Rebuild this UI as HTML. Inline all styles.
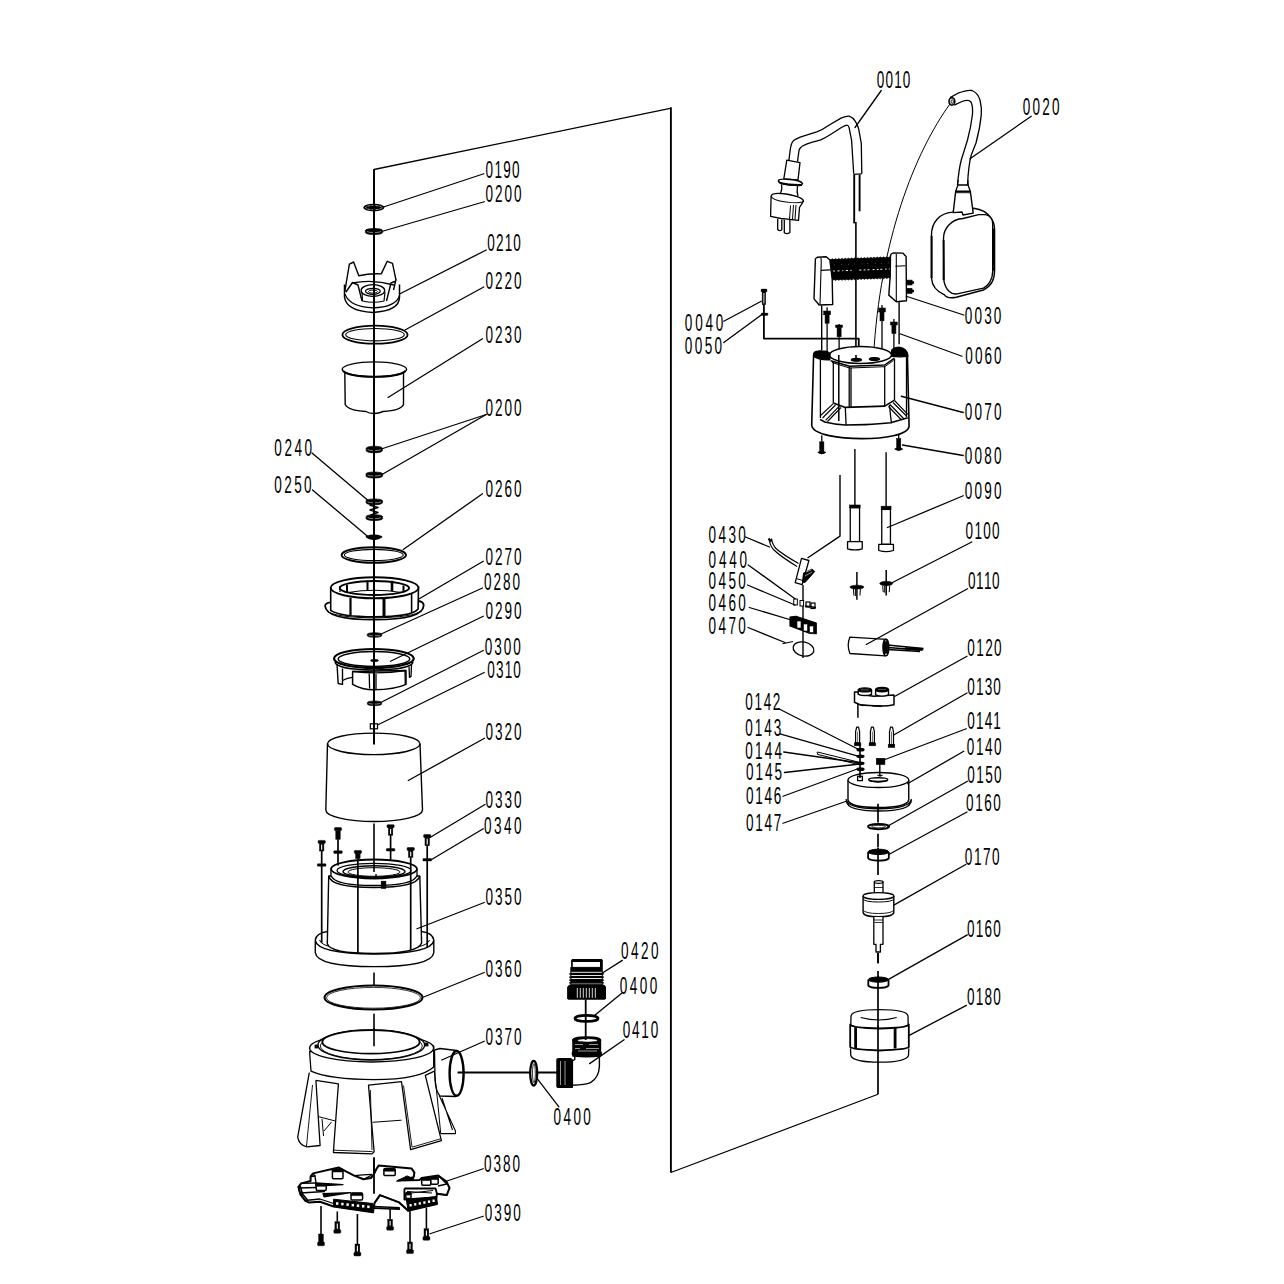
<!DOCTYPE html>
<html><head><meta charset="utf-8"><title>Pump exploded view</title>
<style>
html,body{margin:0;padding:0;background:#fff;}
svg{display:block;}
text{font-family:"Liberation Sans",sans-serif;font-size:23.2px;fill:#000;}
</style></head><body>
<svg width="1284" height="1284" viewBox="0 0 1284 1284">
<rect width="1284" height="1284" fill="#fff"/>

<path d="M374,169.5 L670.2,108.4" fill="none" stroke="#000" stroke-width="1.3" stroke-linejoin="round" />
<line x1="670.9" y1="107.2" x2="670.9" y2="1172.5" stroke="#000" stroke-width="1.9"/>
<path d="M670.9,1172.5 L878,1094.25" fill="none" stroke="#000" stroke-width="1.3" stroke-linejoin="round" />
<ellipse cx="373.8" cy="207.6" rx="10.6" ry="3.9" fill="#000"/>
<ellipse cx="373.8" cy="207.6" rx="8.2" ry="2.1" fill="none" stroke="#fff" stroke-width="0.6" stroke-dasharray="3 1"/>
<path d="M365.40,230.42 A8.6,1.92 0 0 1 382.60,230.42 L382.60,232.58 A8.6,1.92 0 0 1 365.40,232.58 Z" fill="#000" stroke="#000" stroke-width="0.7"/>
<path d="M366.95,231.55 A7.40,1.44 0 0 0 381.05,231.55" stroke="#fff" stroke-width="0.5" fill="none"/>
<path d="M344.5,284.5 L344.5,297 Q346,311 372.9,312.4 Q399.5,311 399.5,297 L399.5,284.5" fill="#fff" stroke="#000" stroke-width="1.5" stroke-linejoin="round" />
<path d="M345,294.3 Q350,307 372.9,307.8 Q396,307 399.5,295.7" fill="none" stroke="#000" stroke-width="1.2" stroke-linejoin="round" />
<path d="M344.8,292 L346.2,283 L349.4,264.1 L353.6,262 L358.8,275.7 Q370,273.2 381.3,273.9 L387.2,261.3 L392.5,263.4 L396,280.2" fill="none" stroke="#000" stroke-width="1.4" stroke-linejoin="round" />
<path d="M346,292 L352.5,282.5 L358,285 L362,301 M393.5,290 L396,279.7 M386.5,301 L391,283 L396,281" fill="none" stroke="#000" stroke-width="1.4" stroke-linejoin="round" />
<path d="M352,283 Q372.9,279 394,285" fill="none" stroke="#000" stroke-width="1.3" stroke-linejoin="round" />
<ellipse cx="372.9" cy="290.5" rx="11.8" ry="5.8" fill="none" stroke="#000" stroke-width="1.3" />
<ellipse cx="372.9" cy="291.3" rx="7.4" ry="3.0" fill="none" stroke="#000" stroke-width="1.2" />
<ellipse cx="372.9" cy="291.6" rx="4.5" ry="1.6" fill="none" stroke="#000" stroke-width="1.0" />
<path d="M362,292 L362.5,301 Q372.9,303.5 384,301 L385,292" fill="none" stroke="#000" stroke-width="1.2" stroke-linejoin="round" />
<ellipse cx="375" cy="334.7" rx="32.6" ry="9" fill="none" stroke="#000" stroke-width="1.8" />
<ellipse cx="375" cy="334.7" rx="29.3" ry="6.2" fill="none" stroke="#000" stroke-width="1.1" />
<path d="M344.8,372 L345.2,404.5 Q348,410.5 366,411.5 Q369,413.5 374,413.5 Q379,413.5 383,411.5 Q401,410.5 403.5,404.5 L403.5,372" fill="#fff" stroke="#000" stroke-width="1.4" stroke-linejoin="round" />
<ellipse cx="374.4" cy="369.3" rx="32.2" ry="7.4" fill="#fff" stroke="#000" stroke-width="1.4" />
<path d="M343,371 Q350,376.8 374.4,376.8 Q399,376.8 405.5,371" fill="none" stroke="#000" stroke-width="2.1" stroke-linejoin="round" />
<path d="M366.20,448.31 A8.1,2.11 0 0 1 382.40,448.31 L382.40,450.69 A8.1,2.11 0 0 1 366.20,450.69 Z" fill="#000" stroke="#000" stroke-width="0.7"/>
<path d="M367.66,449.56 A6.97,1.58 0 0 0 380.94,449.56" stroke="#fff" stroke-width="0.5" fill="none"/>
<path d="M366.00,473.92 A8.3,1.92 0 0 1 382.60,473.92 L382.60,476.08 A8.3,1.92 0 0 1 366.00,476.08 Z" fill="#000" stroke="#000" stroke-width="0.7"/>
<path d="M367.49,475.05 A7.14,1.44 0 0 0 381.11,475.05" stroke="#fff" stroke-width="0.5" fill="none"/>
<path d="M366.10,500.76 A8.2,1.86 0 0 1 382.50,500.76 L382.50,502.84 A8.2,1.86 0 0 1 366.10,502.84 Z" fill="#000" stroke="#000" stroke-width="0.7"/>
<path d="M367.58,501.85 A7.05,1.39 0 0 0 381.02,501.85" stroke="#fff" stroke-width="0.5" fill="none"/>
<path d="M369.5,505 L378,507.5 L370,510 L378,512.5 L370.5,515" fill="none" stroke="#000" stroke-width="1.4" stroke-linejoin="round" />
<path d="M366.10,516.56 A8.2,1.86 0 0 1 382.50,516.56 L382.50,518.64 A8.2,1.86 0 0 1 366.10,518.64 Z" fill="#000" stroke="#000" stroke-width="0.7"/>
<path d="M367.58,517.65 A7.05,1.39 0 0 0 381.02,517.65" stroke="#fff" stroke-width="0.5" fill="none"/>
<path d="M366.5,536.8 Q374,534 381.5,536.8 Q378,539.5 374,539 Q370,539.5 366.5,536.8 Z" fill="#000" stroke="#000" stroke-width="1.6" stroke-linejoin="round" />
<ellipse cx="373.8" cy="555" rx="32.2" ry="7.8" fill="none" stroke="#000" stroke-width="1.9" />
<ellipse cx="373.8" cy="555" rx="29.5" ry="5.6" fill="none" stroke="#000" stroke-width="1.1" />
<path d="M330.7,602.3 Q325.1,602.8 325.1,606 Q326,619.7 374.4,619.7 Q423,619.7 423.7,605.5 Q423.7,601.5 418.1,601 Z" fill="#fff" stroke="#000" stroke-width="1.8" stroke-linejoin="round" />
<path d="M327,611 Q335,617.5 374.4,617.8 Q414,617.5 422,610.5" fill="none" stroke="#000" stroke-width="1.0" stroke-linejoin="round" />
<path d="M330.7,588.4 L330.7,610.3 Q340,616.7 374.8,616.7 Q412,616.7 418.1,609 L418.5,586.7 Z" fill="#fff" stroke="#000" stroke-width="1.6" stroke-linejoin="round" />
<ellipse cx="374.6" cy="587.8" rx="43.9" ry="10.5" fill="#fff" stroke="#000" stroke-width="1.9" />
<ellipse cx="374.4" cy="588" rx="34.7" ry="6.9" fill="none" stroke="#000" stroke-width="2.0" />
<path d="M340.5,590 Q345,585.5 374,585 Q403,585.5 408.5,590" fill="none" stroke="#000" stroke-width="0" stroke-linejoin="round" />
<path d="M348.3,592.5 Q374,588 401.4,592.5" fill="none" stroke="#000" stroke-width="1.2" stroke-linejoin="round" />
<line x1="367.5" y1="580.5" x2="367.5" y2="590" stroke="#000" stroke-width="2.0"/>
<line x1="392" y1="580.8" x2="392" y2="591" stroke="#000" stroke-width="2.6"/>
<line x1="347" y1="585" x2="347" y2="593" stroke="#000" stroke-width="2.0"/>
<line x1="403.5" y1="585.5" x2="403.5" y2="591" stroke="#000" stroke-width="2.0"/>
<line x1="340" y1="586" x2="340" y2="592" stroke="#000" stroke-width="1.2"/>
<line x1="350.5" y1="597.8" x2="350.5" y2="615.5" stroke="#000" stroke-width="2.2"/>
<line x1="384" y1="599" x2="384" y2="616.5" stroke="#000" stroke-width="3.0"/>
<line x1="411.6" y1="594" x2="411.6" y2="612" stroke="#000" stroke-width="1.6"/>
<path d="M367.30,634.17 A7.2,1.47 0 0 1 381.70,634.17 L381.70,635.83 A7.2,1.47 0 0 1 367.30,635.83 Z" fill="#000" stroke="#000" stroke-width="0.7"/>
<path d="M368.60,635.04 A6.19,1.10 0 0 0 380.40,635.04" stroke="#fff" stroke-width="0.5" fill="none"/>
<path d="M352.6,671.5 L352.6,684.4 Q362,689.8 374,689.8 Q395,689.5 406,684.4 L406,670.5 Z" fill="#fff" stroke="#000" stroke-width="1.5" stroke-linejoin="round" />
<path d="M352.6,671.5 Q380,674.5 406,670.5" fill="none" stroke="#000" stroke-width="1.3" stroke-linejoin="round" />
<path d="M369.2,673.5 L369.6,688.5 M376,674 L376,689.8 M405,671 L405.3,684.5" fill="none" stroke="#000" stroke-width="1.3" stroke-linejoin="round" />
<path d="M337,664 L338.2,683.5 L342.5,684.4 L342.5,668.5" fill="#fff" stroke="#000" stroke-width="1.4" stroke-linejoin="round" />
<path d="M342.5,680.5 Q347,678 352.6,677.4" fill="none" stroke="#000" stroke-width="1.3" stroke-linejoin="round" />
<path d="M409,666.5 L409.5,677.4 L411,676.5 L411.5,665" fill="#fff" stroke="#000" stroke-width="1.3" stroke-linejoin="round" />
<path d="M335,662 Q336.5,669.5 374,670 Q411.5,669.5 413,662" fill="none" stroke="#000" stroke-width="1.5" stroke-linejoin="round" />
<ellipse cx="373.9" cy="658.5" rx="39.9" ry="9.5" fill="#fff" stroke="#000" stroke-width="2.2" />
<ellipse cx="374" cy="659" rx="35.8" ry="7.4" fill="none" stroke="#000" stroke-width="1.5" />
<ellipse cx="374.5" cy="660.5" rx="3.9" ry="1.0" fill="#000" stroke="#000" stroke-width="0.8" />
<path d="M367.40,702.47 A7.1,1.47 0 0 1 381.60,702.47 L381.60,704.13 A7.1,1.47 0 0 1 367.40,704.13 Z" fill="#000" stroke="#000" stroke-width="0.7"/>
<path d="M368.68,703.34 A6.11,1.10 0 0 0 380.32,703.34" stroke="#fff" stroke-width="0.5" fill="none"/>
<rect x="370.3" y="723.8" width="7.2" height="5" rx="0" fill="#fff" stroke="#000" stroke-width="1.2"/>
<line x1="374" y1="169" x2="374" y2="744.5" stroke="#000" stroke-width="2.0"/>
<path d="M327.5,743.85 A46.25,10.75 0 0 1 420,743.85 L422.5,810 A48.35,11.5 0 0 1 325.8,810 Z" fill="#fff" stroke="#000" stroke-width="1.4" stroke-linejoin="round" />
<path d="M327.5,743.85 A46.25,10.75 0 0 0 420,743.85" fill="none" stroke="#000" stroke-width="1.4" stroke-linejoin="round" />
<line x1="374" y1="733.2" x2="374" y2="744.5" stroke="#000" stroke-width="2.0"/>
<path d="M315.3,940.3 Q316,933 327.5,931.5 M421.5,931.5 Q433,933 433.8,940.3" fill="none" stroke="#000" stroke-width="1.3" stroke-linejoin="round" />
<path d="M315.3,940.3 L315.3,952.6 Q317,966.6 374.5,966.6 Q432,966.6 433.8,952.6 L433.8,940.3 Q432,953.5 374.5,954 Q317,953.5 315.3,940.3 Z" fill="#fff" stroke="#000" stroke-width="1.4" stroke-linejoin="round" />
<path d="M319.5,940 Q322,950 374.5,951 Q427,950 429.5,940" fill="none" stroke="#000" stroke-width="1.0" stroke-linejoin="round" />
<path d="M328.7,876 L327.3,943.8 Q330,953.5 374,953.5 Q418,953.5 421.6,943 L419.8,876 Z" fill="#fff" stroke="#000" stroke-width="1.4" stroke-linejoin="round" />
<path d="M328.7,876 Q331,887.5 374,887.5 Q417,887.5 419.8,876" fill="none" stroke="#000" stroke-width="1.4" stroke-linejoin="round" />
<path d="M331,869 L331,875.5 Q334,885.5 374,885.5 Q414,885.5 417,875.5 L417,869" fill="#fff" stroke="#000" stroke-width="1.3" stroke-linejoin="round" />
<ellipse cx="374" cy="869" rx="43" ry="9.5" fill="#fff" stroke="#000" stroke-width="1.8" />
<ellipse cx="374" cy="870.5" rx="37" ry="7.2" fill="none" stroke="#000" stroke-width="1.2" />
<ellipse cx="374" cy="871.5" rx="31" ry="5.8" fill="none" stroke="#000" stroke-width="1.5" />
<ellipse cx="374" cy="872" rx="26" ry="4.3" fill="none" stroke="#000" stroke-width="1.0" />
<rect x="381.3" y="881.3" width="4.5" height="7" rx="0" fill="#000" stroke="#000" stroke-width="0.8"/>
<line x1="374" y1="823.5" x2="374" y2="872" stroke="#000" stroke-width="1.6"/>
<line x1="376" y1="874" x2="376" y2="878.4" stroke="#000" stroke-width="1.4"/>
<line x1="321.7" y1="851" x2="321.7" y2="942.7" stroke="#000" stroke-width="1.7"/>
<rect x="318.09999999999997" y="840.4" width="7.2" height="3.0" rx="0.8" fill="#000" stroke="#000" stroke-width="0.5"/>
<rect x="319.5" y="843.4" width="4.4" height="7.600000000000023" rx="0" fill="#000" stroke="#000" stroke-width="0.5"/>
<line x1="321.7" y1="844.6" x2="321.7" y2="849.8" stroke="#fff" stroke-width="1.1"/>
<rect x="317.4" y="863.7" width="8.6" height="2.6" rx="0.6" fill="#000" stroke="#000" stroke-width="0.4"/>
<line x1="338" y1="839.3" x2="338" y2="865.6" stroke="#000" stroke-width="1.7"/>
<rect x="334.4" y="827.6" width="7.2" height="3.0" rx="0.8" fill="#000" stroke="#000" stroke-width="0.5"/>
<rect x="335.8" y="830.6" width="4.4" height="8.699999999999932" rx="0" fill="#000" stroke="#000" stroke-width="0.5"/>
<rect x="333.7" y="850.8000000000001" width="8.6" height="2.6" rx="0.6" fill="#000" stroke="#000" stroke-width="0.4"/>
<line x1="357.9" y1="858.6" x2="357.9" y2="953.2" stroke="#000" stroke-width="1.7"/>
<rect x="354.29999999999995" y="850.4" width="7.2" height="3.0" rx="0.8" fill="#000" stroke="#000" stroke-width="0.5"/>
<rect x="355.7" y="853.4" width="4.4" height="5.2000000000000455" rx="0" fill="#000" stroke="#000" stroke-width="0.5"/>
<line x1="390.6" y1="835.2" x2="390.6" y2="859.7" stroke="#000" stroke-width="1.7"/>
<rect x="387.0" y="824.7" width="7.2" height="3.0" rx="0.8" fill="#000" stroke="#000" stroke-width="0.5"/>
<rect x="388.40000000000003" y="827.7" width="4.4" height="7.5" rx="0" fill="#000" stroke="#000" stroke-width="0.5"/>
<line x1="390.6" y1="828.9000000000001" x2="390.6" y2="834.0" stroke="#fff" stroke-width="1.1"/>
<rect x="386.3" y="848.5" width="8.6" height="2.6" rx="0.6" fill="#000" stroke="#000" stroke-width="0.4"/>
<line x1="410.7" y1="857.4" x2="410.7" y2="949.7" stroke="#000" stroke-width="1.7"/>
<rect x="407.09999999999997" y="847.5" width="7.2" height="3.0" rx="0.8" fill="#000" stroke="#000" stroke-width="0.5"/>
<rect x="408.5" y="850.5" width="4.4" height="6.899999999999977" rx="0" fill="#000" stroke="#000" stroke-width="0.5"/>
<line x1="410.7" y1="851.7" x2="410.7" y2="856.1999999999999" stroke="#fff" stroke-width="1.1"/>
<line x1="427.2" y1="845.7" x2="427.2" y2="947.3" stroke="#000" stroke-width="1.7"/>
<rect x="423.59999999999997" y="834.6" width="7.2" height="3.0" rx="0.8" fill="#000" stroke="#000" stroke-width="0.5"/>
<rect x="425.0" y="837.6" width="4.4" height="8.100000000000023" rx="0" fill="#000" stroke="#000" stroke-width="0.5"/>
<line x1="427.2" y1="838.8000000000001" x2="427.2" y2="844.5" stroke="#fff" stroke-width="1.1"/>
<rect x="422.9" y="858.4000000000001" width="8.6" height="2.6" rx="0.6" fill="#000" stroke="#000" stroke-width="0.4"/>
<line x1="374" y1="972.5" x2="374" y2="985.5" stroke="#000" stroke-width="1.6"/>
<ellipse cx="373.5" cy="997.5" rx="49" ry="12" fill="none" stroke="#000" stroke-width="1.9" />
<ellipse cx="373.5" cy="997.8" rx="47" ry="10.4" fill="none" stroke="#000" stroke-width="0.8" />
<line x1="374" y1="1009.5" x2="374" y2="1013.75" stroke="#000" stroke-width="0"/>
<line x1="374" y1="1013.75" x2="374" y2="1046.25" stroke="#000" stroke-width="1.6"/>
<path d="M309.6,1051.5 L311,1071.2 Q330,1079.6 374.1,1079.6 Q420,1079.6 433.7,1067 L433.7,1045.9 Z" fill="#fff" stroke="#000" stroke-width="1.3" stroke-linejoin="round" />
<ellipse cx="371.6" cy="1048" rx="62" ry="14" fill="#fff" stroke="#000" stroke-width="1.4" />
<path d="M309.6,1051.5 Q313,1069.5 374.1,1070 Q428,1068 433.7,1060" fill="none" stroke="#000" stroke-width="0" stroke-linejoin="round" />
<ellipse cx="371.3" cy="1045" rx="53.3" ry="15" fill="none" stroke="#000" stroke-width="1.3" />
<ellipse cx="371.3" cy="1046" rx="51" ry="13.5" fill="none" stroke="#000" stroke-width="0.9" />
<ellipse cx="371" cy="1041.9" rx="48.7" ry="11.8" fill="#fff" stroke="#000" stroke-width="1.7" />
<line x1="374" y1="1028" x2="374" y2="1046.25" stroke="#000" stroke-width="1.6"/>
<rect x="315" y="1045" width="3" height="3" rx="0" fill="#000" stroke="#000" stroke-width="0.8"/>
<rect x="425" y="1043" width="3" height="3" rx="0" fill="#000" stroke="#000" stroke-width="0.8"/>
<path d="M309.3,1072.6 L297.7,1137.1 Q299,1145 306.8,1146.9 L320.1,1145.5 L315.9,1080.3" fill="#fff" stroke="#000" stroke-width="1.3" stroke-linejoin="round" />
<path d="M312.5,1085 L306.5,1146" fill="none" stroke="#000" stroke-width="0.9" stroke-linejoin="round" />
<path d="M315.9,1080.3 L338.4,1083.8 L333.5,1150.5 L333.5,1152.5 L372,1153.9 L374.1,1151.8 L368.5,1085.2 L401.5,1081.7 L410.6,1149.7 L441.4,1140.6 L425.3,1075.4 L434.4,1071.2" fill="none" stroke="#000" stroke-width="1.3" stroke-linejoin="round" />
<path d="M333.8,1150.2 L372.5,1151.6 M370.4,1090 L372,1150 M403.5,1085.5 L412,1147 M412,1147.2 L440.5,1138.8" fill="none" stroke="#000" stroke-width="0.9" stroke-linejoin="round" />
<path d="M318.7,1116.7 L334.9,1120.9 M322,1119 L323.5,1136 M324,1131 L331.5,1122 M372.7,1122.3 L401.5,1120.2" fill="none" stroke="#000" stroke-width="1.0" stroke-linejoin="round" />
<path d="M439.3,1095.7 L455.4,1130.8 L455.4,1133.6 L440.7,1133.6 M442,1098 L452.5,1130" fill="none" stroke="#000" stroke-width="1.1" stroke-linejoin="round" />
<path d="M434.4,1071.2 L437.5,1100 M437.5,1100 L440.7,1133.6" fill="none" stroke="#000" stroke-width="1.0" stroke-linejoin="round" />
<path d="M434.5,1050 L440,1048.5 L456.5,1050.5 M440,1096 L456,1096.5 M434.5,1050 L435,1080 Q436,1092 440,1096" fill="none" stroke="#000" stroke-width="1.3" stroke-linejoin="round" />
<ellipse cx="456.6" cy="1073.4" rx="7.0" ry="22.4" fill="#fff" stroke="#000" stroke-width="2.4" />
<line x1="457.5" y1="1072.5" x2="556.9" y2="1072.5" stroke="#000" stroke-width="1.8"/>
<ellipse cx="533.7" cy="1073.2" rx="3.5" ry="12.3" fill="#fff" stroke="#000" stroke-width="2.3" />
<ellipse cx="533.9" cy="1073.2" rx="1.4" ry="9.5" fill="none" stroke="#000" stroke-width="0.8" />
<path d="M574.8,1055 L574.8,1059.5 L572.4,1061 L572.4,1085.2 C580,1085 586,1084.7 590.5,1082.7 C595,1080 599,1074 599.4,1066.5 L599.4,1055" fill="#fff" stroke="#000" stroke-width="1.4" stroke-linejoin="round" />
<path d="M556.9,1060 Q556.5,1058.5 559,1058.5 L570.5,1058.5 L572.4,1060 L572.4,1087.3 L557.5,1087.3 Q556.5,1087 556.9,1085 Z" fill="#000" stroke="#000" stroke-width="1.2" stroke-linejoin="round" />
<line x1="560.2" y1="1061" x2="560.2" y2="1085" stroke="#000" stroke-width="0.5"/>
<line x1="563.2" y1="1061" x2="563.2" y2="1085" stroke="#000" stroke-width="0.5"/>
<line x1="566.2" y1="1061" x2="566.2" y2="1085" stroke="#000" stroke-width="0.5"/>
<line x1="569.2" y1="1061" x2="569.2" y2="1085" stroke="#000" stroke-width="0.5"/>
<line x1="560.5" y1="1061" x2="560.5" y2="1085" stroke="#fff" stroke-width="0.6"/>
<line x1="565" y1="1061" x2="565" y2="1085" stroke="#fff" stroke-width="0.6"/>
<path d="M572.9,1040 L572.9,1056 Q586.7,1057.5 600.5,1056 L600.5,1040 Z" fill="#000" stroke="#000" stroke-width="1.3" stroke-linejoin="round" />
<path d="M572.2,1052 L601.4,1052 L601.4,1055 L572.2,1055 Z" fill="#000" stroke="#000" stroke-width="0.8" stroke-linejoin="round" />
<line x1="575" y1="1044.5" x2="583" y2="1044.5" stroke="#fff" stroke-width="0.6"/>
<line x1="589" y1="1044.5" x2="598" y2="1044.5" stroke="#fff" stroke-width="0.6"/>
<line x1="575" y1="1048.5" x2="580" y2="1048.5" stroke="#fff" stroke-width="0.6"/>
<line x1="586" y1="1048.5" x2="599" y2="1048.5" stroke="#fff" stroke-width="0.6"/>
<line x1="578" y1="1051" x2="597" y2="1051" stroke="#fff" stroke-width="0.6"/>
<ellipse cx="586.7" cy="1040.2" rx="13.8" ry="3.1" fill="#000" stroke="#000" stroke-width="1.6" />
<ellipse cx="587.5" cy="1040.4" rx="10" ry="1.7" fill="#fff" stroke="#000" stroke-width="0.5" />
<line x1="585.7" y1="999.3" x2="585.7" y2="1040" stroke="#000" stroke-width="1.8"/>
<ellipse cx="586.5" cy="1018.4" rx="11.6" ry="3.0" fill="#fff" stroke="#000" stroke-width="2.6" />
<line x1="585.7" y1="1015.6" x2="585.7" y2="1020.6" stroke="#000" stroke-width="1.8"/>
<path d="M572.2,959 L601.8,959 L602.8,960.2 L602.8,967.5 L571.1,967.5 L571.1,960.2 Z" fill="#000"/>
<rect x="572.8" y="962" width="27.2" height="4.9" fill="#fff"/>
<rect x="570.3" y="967.1" width="32.5" height="17.4" fill="#000"/>
<line x1="571.4" y1="972.3" x2="601.8" y2="972.3" stroke="#fff" stroke-width="0.9"/>
<line x1="571.4" y1="975.5" x2="601.8" y2="975.5" stroke="#fff" stroke-width="0.9"/>
<line x1="571.4" y1="978.5" x2="601.8" y2="978.5" stroke="#fff" stroke-width="0.9"/>
<line x1="571.4" y1="983.3" x2="601.8" y2="983.3" stroke="#fff" stroke-width="0.9"/>
<rect x="569" y="973.2" width="35.2" height="1.4" rx="0.6" fill="#000"/>
<rect x="569" y="976.4" width="35.2" height="1.4" rx="0.6" fill="#000"/>
<rect x="569" y="979.4" width="35.2" height="1.4" rx="0.6" fill="#000"/>
<rect x="569" y="982.2" width="35.2" height="1.4" rx="0.6" fill="#000"/>
<path d="M568.5,985.5 L570.3,984.2 L602.8,984.2 L605,985.5 L606,987 L606,998.3 L604.8,999.7 L568.3,999.7 L567.1,998.3 L567.1,987 Z" fill="#000"/>
<line x1="577.3" y1="988" x2="577.3" y2="997.8" stroke="#fff" stroke-width="0.85"/>
<line x1="580.3" y1="988" x2="580.3" y2="997.8" stroke="#fff" stroke-width="0.85"/>
<line x1="583.3" y1="988" x2="583.3" y2="997.8" stroke="#fff" stroke-width="0.85"/>
<line x1="586.3" y1="988" x2="586.3" y2="997.8" stroke="#fff" stroke-width="0.85"/>
<line x1="589.3" y1="988" x2="589.3" y2="997.8" stroke="#fff" stroke-width="0.85"/>
<line x1="592.3" y1="988" x2="592.3" y2="997.8" stroke="#fff" stroke-width="0.85"/>
<line x1="595.3" y1="988" x2="595.3" y2="997.8" stroke="#fff" stroke-width="0.85"/>
<line x1="374" y1="1157.5" x2="374" y2="1193.75" stroke="#000" stroke-width="1.6"/>
<path d="M313.1,1173.4 L338.6,1167.5 L345.5,1171.2 L354.2,1175.6 L363.5,1179.3 L371,1178.1 L374,1174 L376.3,1169.3 L378.6,1165.6 L411.7,1168.6 L414.4,1172.6 L413.7,1177.2 L398.5,1180.5 L419.7,1179.9 L421.7,1177.9 L438.2,1175.6 L446.2,1181.2 L449.5,1187.8 L446.8,1195.1 L436.9,1193.8 L436.2,1199.7 L437,1204 L408,1210.8 L407.1,1209.7 L399.1,1202.4 L380,1195.1 L374.5,1203 L373,1212.3 L333.6,1206.5 L320,1201.7 L308.7,1202.4 L305,1200.5 L300,1193 L298.4,1186.8 L301.2,1183.4 L310.6,1181 L310.6,1176.5 Z" fill="#fff" stroke="#000" stroke-width="2.0" stroke-linejoin="round" />
<line x1="374" y1="1157.5" x2="374" y2="1193.75" stroke="#000" stroke-width="1.8"/>
<path d="M354.2,1175.6 Q363,1174.5 372.3,1174.3 M363.5,1179.3 L372,1175" fill="none" stroke="#000" stroke-width="1.3" stroke-linejoin="round" />
<path d="M315.6,1182.8 L343,1184.6 L316,1186.2 Z M323,1193.6 L350.5,1192.7 L324,1196.8 Z" fill="#000" stroke="#000" stroke-width="1.2" stroke-linejoin="round" />
<path d="M301.2,1183.4 L316,1183 M300,1193 L325,1191.5 M299,1188 L316,1187.5 M305,1200.5 L320,1199 L333.6,1203.5" fill="none" stroke="#000" stroke-width="1.3" stroke-linejoin="round" />
<path d="M298.4,1186.8 L300.5,1195 L306,1201.5 M300.2,1186 L302.5,1194 L307.5,1200" fill="none" stroke="#000" stroke-width="1.6" stroke-linejoin="round" />
<path d="M313.1,1173.4 L315,1176.5 L316,1183 M310.6,1176.5 L316,1176" fill="none" stroke="#000" stroke-width="1.4" stroke-linejoin="round" />
<path d="M407.1,1175.9 L396.5,1181.2 L414,1179 Z" fill="#000" stroke="#000" stroke-width="1.0" stroke-linejoin="round" />
<path d="M374.5,1203 L380,1195.1 L399.1,1202.4 L407.1,1209.7 M374,1206.4 L399.8,1207.7 M374,1208.2 L400,1209.2" fill="none" stroke="#000" stroke-width="1.5" stroke-linejoin="round" />
<path d="M404.4,1188.5 L435.6,1188.5 L436.9,1193.8 M404.4,1188.5 L404.4,1199.5 L436.2,1197.5" fill="none" stroke="#000" stroke-width="1.8" stroke-linejoin="round" />
<path d="M407,1191.5 L432,1193 M407,1193.5 L433,1190.5" fill="none" stroke="#000" stroke-width="1.0" stroke-linejoin="round" />
<path d="M436.9,1193.8 L446.8,1195.1 M438.2,1175.6 L446.8,1184 L438,1186" fill="none" stroke="#000" stroke-width="1.4" stroke-linejoin="round" />
<rect x="332.4" y="1169.3" width="10.6" height="9.4" rx="1.2" fill="#fff" stroke="#000" stroke-width="1.5"/>
<rect x="332.4" y="1169.3" width="10.6" height="2.6" rx="1.0" fill="#000" stroke="#000" stroke-width="0.6"/>
<rect x="316.2" y="1183.7" width="10" height="6.8" rx="1.2" fill="#fff" stroke="#000" stroke-width="1.5"/>
<rect x="316.2" y="1183.7" width="10" height="2.6" rx="1.0" fill="#000" stroke="#000" stroke-width="0.6"/>
<rect x="351" y="1193" width="11.6" height="6.9" rx="1.2" fill="#fff" stroke="#000" stroke-width="1.5"/>
<rect x="351" y="1193" width="11.6" height="2.6" rx="1.0" fill="#000" stroke="#000" stroke-width="0.6"/>
<rect x="383.9" y="1168.6" width="11.3" height="7" rx="1.2" fill="#fff" stroke="#000" stroke-width="1.5"/>
<rect x="383.9" y="1168.6" width="11.3" height="2.6" rx="1.0" fill="#000" stroke="#000" stroke-width="0.6"/>
<rect x="421.7" y="1177.9" width="9.2" height="7.3" rx="1.2" fill="#fff" stroke="#000" stroke-width="1.5"/>
<rect x="421.7" y="1177.9" width="9.2" height="2.6" rx="1.0" fill="#000" stroke="#000" stroke-width="0.6"/>
<rect x="430.9" y="1177" width="7.3" height="7.3" rx="1.2" fill="#fff" stroke="#000" stroke-width="1.5"/>
<rect x="430.9" y="1177" width="7.3" height="2.6" rx="1.0" fill="#000" stroke="#000" stroke-width="0.6"/>
<rect x="405.8" y="1192.5" width="5.2" height="5.9" rx="1.2" fill="#fff" stroke="#000" stroke-width="1.5"/>
<rect x="405.8" y="1192.5" width="5.2" height="2.6" rx="1.0" fill="#000" stroke="#000" stroke-width="0.6"/>
<path d="M333.6,1199.2 L372.9,1203.5 L372.9,1212.3 L333.6,1206.5 Z" fill="#000" stroke="#000" stroke-width="1.0" stroke-linejoin="round" />
<rect x="336.0" y="1202.2" width="2.4" height="2.6" rx="0" fill="#fff" stroke="#000" stroke-width="0"/>
<rect x="341.2" y="1202.75" width="2.4" height="2.6" rx="0" fill="#fff" stroke="#000" stroke-width="0"/>
<rect x="346.4" y="1203.3" width="2.4" height="2.6" rx="0" fill="#fff" stroke="#000" stroke-width="0"/>
<rect x="351.6" y="1203.8500000000001" width="2.4" height="2.6" rx="0" fill="#fff" stroke="#000" stroke-width="0"/>
<rect x="356.8" y="1204.4" width="2.4" height="2.6" rx="0" fill="#fff" stroke="#000" stroke-width="0"/>
<rect x="362.0" y="1204.95" width="2.4" height="2.6" rx="0" fill="#fff" stroke="#000" stroke-width="0"/>
<rect x="367.2" y="1205.5" width="2.4" height="2.6" rx="0" fill="#fff" stroke="#000" stroke-width="0"/>
<path d="M406.4,1200 L436.5,1196.5 L437,1204 L408,1210.8 Z" fill="#000" stroke="#000" stroke-width="1.0" stroke-linejoin="round" />
<rect x="409.5" y="1204.0" width="2.2" height="2.5" rx="0" fill="#fff" stroke="#000" stroke-width="0"/>
<rect x="414.1" y="1203.1" width="2.2" height="2.5" rx="0" fill="#fff" stroke="#000" stroke-width="0"/>
<rect x="418.7" y="1202.2" width="2.2" height="2.5" rx="0" fill="#fff" stroke="#000" stroke-width="0"/>
<rect x="423.3" y="1201.3" width="2.2" height="2.5" rx="0" fill="#fff" stroke="#000" stroke-width="0"/>
<rect x="427.9" y="1200.4" width="2.2" height="2.5" rx="0" fill="#fff" stroke="#000" stroke-width="0"/>
<rect x="432.5" y="1199.5" width="2.2" height="2.5" rx="0" fill="#fff" stroke="#000" stroke-width="0"/>
<line x1="321" y1="1206" x2="321" y2="1234" stroke="#000" stroke-width="1.6"/>
<rect x="318.6" y="1234" width="4.8" height="8.299999999999955" rx="0" fill="#000" stroke="#000" stroke-width="0.4"/>
<rect x="317.5" y="1242.0" width="7.0" height="3.8" rx="1.0" fill="#000" stroke="#000" stroke-width="0.4"/>
<line x1="337.3" y1="1211.5" x2="337.3" y2="1221.7" stroke="#000" stroke-width="1.6"/>
<rect x="334.90000000000003" y="1221.7" width="4.8" height="8.099999999999909" rx="0" fill="#000" stroke="#000" stroke-width="0.4"/>
<rect x="333.8" y="1229.5" width="7.0" height="3.8" rx="1.0" fill="#000" stroke="#000" stroke-width="0.4"/>
<line x1="337.3" y1="1223.5" x2="337.3" y2="1228.7" stroke="#fff" stroke-width="1.1"/>
<line x1="357.4" y1="1214" x2="357.4" y2="1244" stroke="#000" stroke-width="1.6"/>
<rect x="355.0" y="1244" width="4.8" height="8.5" rx="0" fill="#000" stroke="#000" stroke-width="0.4"/>
<rect x="353.9" y="1252.2" width="7.0" height="3.8" rx="1.0" fill="#000" stroke="#000" stroke-width="0.4"/>
<line x1="357.4" y1="1245.8" x2="357.4" y2="1251.4" stroke="#fff" stroke-width="1.1"/>
<line x1="390.1" y1="1209" x2="390.1" y2="1219.3" stroke="#000" stroke-width="1.6"/>
<rect x="387.70000000000005" y="1219.3" width="4.8" height="7.400000000000091" rx="0" fill="#000" stroke="#000" stroke-width="0.4"/>
<rect x="386.6" y="1226.4" width="7.0" height="3.8" rx="1.0" fill="#000" stroke="#000" stroke-width="0.4"/>
<line x1="390.1" y1="1221.1" x2="390.1" y2="1225.6000000000001" stroke="#fff" stroke-width="1.1"/>
<line x1="410" y1="1210.7" x2="410" y2="1242" stroke="#000" stroke-width="1.6"/>
<rect x="407.6" y="1242" width="4.8" height="8.099999999999909" rx="0" fill="#000" stroke="#000" stroke-width="0.4"/>
<rect x="406.5" y="1249.8" width="7.0" height="3.8" rx="1.0" fill="#000" stroke="#000" stroke-width="0.4"/>
<line x1="410" y1="1243.8" x2="410" y2="1249.0" stroke="#fff" stroke-width="1.1"/>
<line x1="426.4" y1="1207.6" x2="426.4" y2="1228.7" stroke="#000" stroke-width="1.6"/>
<rect x="424.0" y="1228.7" width="4.8" height="8.099999999999909" rx="0" fill="#000" stroke="#000" stroke-width="0.4"/>
<rect x="422.9" y="1236.5" width="7.0" height="3.8" rx="1.0" fill="#000" stroke="#000" stroke-width="0.4"/>
<line x1="426.4" y1="1230.5" x2="426.4" y2="1235.7" stroke="#fff" stroke-width="1.1"/>
<path d="M788.9,160.1 L790.4,148.5 Q791.5,141 795.4,139.4 Q800,136.8 805.6,135.3 L816.7,131.8 Q823,129.5 828.9,125.2 L841,118.1 Q846,116 849.1,116.1 Q853,117.5 855.2,121.1 Q857.5,124.5 858.7,129.2 L861.3,143.4 L861.8,173.8" fill="none" stroke="#000" stroke-width="1.3" stroke-linejoin="round" />
<path d="M797.5,161.6 L799,150.5 Q800,147.5 802.5,146 Q806,144 811.6,142.4 L820.8,139.9 Q826,137.5 830.9,134.3 L841,127.7 Q845,125.5 847.1,125.2 Q848.5,125.5 849.1,127.7 L851.6,140.4 L853.7,173.8" fill="none" stroke="#000" stroke-width="1.3" stroke-linejoin="round" />
<line x1="853.5" y1="174.3" x2="861.8" y2="173.8" stroke="#000" stroke-width="1.3"/>
<line x1="854.2" y1="174.8" x2="854.2" y2="223.4" stroke="#000" stroke-width="1.9"/>
<line x1="859.6" y1="174.8" x2="859.6" y2="211.3" stroke="#000" stroke-width="1.9"/>
<path d="M786.8,160.1 L800,162.7 L798,179.9 L783.8,178.9 Z" fill="#fff" stroke="#000" stroke-width="1.3" stroke-linejoin="round" />
<path d="M778.5,180.5 Q779,178.5 790,179.5 Q801,180.5 802.5,183.5 Q802,186 790,185 Q778,184 778.5,180.5 Z" fill="#fff" stroke="#000" stroke-width="1.5" stroke-linejoin="round" />
<path d="M780,183 Q790,185.5 802,185" fill="none" stroke="#000" stroke-width="2.2" stroke-linejoin="round" />
<path d="M781.5,184.5 Q782.5,190 780,194 M797.5,186 Q796.5,192 798,196" fill="none" stroke="#000" stroke-width="1.3" stroke-linejoin="round" />
<path d="M771.1,196.1 Q772,192 786,194 Q803,197 803.5,201.1 L799.5,207.5 L798.5,220.4 L781,218.5 L770.6,216.3 Z" fill="#fff" stroke="#000" stroke-width="1.3" stroke-linejoin="round" />
<path d="M771.1,196.1 Q772,200 786,202 Q802,204 803.5,201.1" fill="none" stroke="#000" stroke-width="1.1" stroke-linejoin="round" />
<path d="M777.7,219 L777.7,229.5 Q779.5,231.5 781.8,229.8 L781.8,219.4 M784.3,219.8 L784.3,232.8 Q787,234.5 789.9,232.5 L789.9,219.9" fill="#fff" stroke="#000" stroke-width="1.3" stroke-linejoin="round" />
<path d="M793.5,205 L792.5,219.5 M796,205 L795,219.5 M790.5,205.5 L789.5,219.5" fill="none" stroke="#000" stroke-width="1.0" stroke-linejoin="round" />
<ellipse cx="951.9" cy="101.4" rx="2.9" ry="3.7" fill="#fff" stroke="#000" stroke-width="1.6" />
<ellipse cx="952.2" cy="101.6" rx="1.2" ry="1.8" fill="none" stroke="#000" stroke-width="0.9" />
<path d="M950,97.6 L958,93.2 Q967.5,89.5 972,90.5 Q977.5,92.5 980,100 Q982,108 981.25,115 Q980,128 976,143 L971.25,155 Q968.5,165 967.5,185" fill="none" stroke="#000" stroke-width="1.3" stroke-linejoin="round" />
<path d="M954.2,105.2 L962,101.5 Q968.75,99 971,102 Q973,106 972.5,114 Q971,127 967.5,140 L961.25,160 Q958.75,170 957.5,185" fill="none" stroke="#000" stroke-width="1.3" stroke-linejoin="round" />
<path d="M931.5,278 L931.5,235 C931.5,222 940,213 952.3,212.1 L973.7,208.2 C980,209 987,212 991,218 C994,222 994.6,226 994.6,230 L994.6,270.6 C994.6,280 990,287 983.4,290 L956.2,297.3 C950,298.5 946,297 944.5,294.9 C938,292 932,287 931.5,278 Z" fill="#fff" stroke="#000" stroke-width="1.4" stroke-linejoin="round" />
<path d="M944,281.3 L943.5,238.4 C943.5,228 952,219 963,218.5 L978.6,214.6 L985.4,214.6 C989.5,215.5 992.7,219 992.7,224 L992.7,271.5 C992.7,280 988,286 983.4,288.1 L957.1,293.9 C951,295 946,290 944,281.3 Z" fill="#fff" stroke="#000" stroke-width="1.4" stroke-linejoin="round" />
<line x1="993.7" y1="228.7" x2="993.7" y2="270.6" stroke="#000" stroke-width="2.4"/>
<line x1="931.6" y1="236" x2="931.6" y2="278" stroke="#000" stroke-width="1.9"/>
<line x1="943.6" y1="240" x2="943.6" y2="280" stroke="#000" stroke-width="1.9"/>
<path d="M957.5,185 L958.1,180 M967.8,180 L968.2,185" fill="none" stroke="#000" stroke-width="1.3" stroke-linejoin="round" />
<path d="M955.7,191.2 L970.3,191.2 L973.2,213.1 L963,215 L962,212 L953.2,212.6 Z" fill="#fff" stroke="#000" stroke-width="1.4" stroke-linejoin="round" />
<path d="M958,185 L968,185 L970.3,191.2 M958,185 L955.7,191.2" fill="none" stroke="#000" stroke-width="1.3" stroke-linejoin="round" />
<line x1="956" y1="192.7" x2="970.2" y2="192.7" stroke="#000" stroke-width="1.0"/>
<path d="M950.3,103.5 C915,152 880,240 873.5,357" fill="none" stroke="#000" stroke-width="1.0" stroke-linejoin="round" />
<path d="M830,259.8 L894.6,257.4 L894.6,277.3 L830,279.7 Z" fill="#000" stroke="#000" stroke-width="0.8"/>
<line x1="833.2" y1="271.08" x2="834.9" y2="270.98" stroke="#fff" stroke-width="1.0"/>
<line x1="837.6" y1="270.92" x2="839.5" y2="270.82" stroke="#fff" stroke-width="1.0"/>
<line x1="842.3" y1="270.75" x2="843.3" y2="270.65" stroke="#fff" stroke-width="1.0"/>
<line x1="845.8" y1="270.61" x2="848.0" y2="270.51" stroke="#fff" stroke-width="1.0"/>
<line x1="850.4" y1="270.44" x2="851.7" y2="270.34" stroke="#fff" stroke-width="1.0"/>
<line x1="859.3" y1="270.12" x2="861.4" y2="270.02" stroke="#fff" stroke-width="1.0"/>
<line x1="863.6" y1="269.96" x2="865.5" y2="269.86" stroke="#fff" stroke-width="1.0"/>
<line x1="867.5" y1="269.81" x2="869.4" y2="269.71" stroke="#fff" stroke-width="1.0"/>
<line x1="872.6" y1="269.62" x2="874.4" y2="269.52" stroke="#fff" stroke-width="1.0"/>
<line x1="876.8" y1="269.47" x2="878.7" y2="269.37" stroke="#fff" stroke-width="1.0"/>
<line x1="880.3" y1="269.34" x2="882.3" y2="269.24" stroke="#fff" stroke-width="1.0"/>
<line x1="885.2" y1="269.16" x2="886.6" y2="269.06" stroke="#fff" stroke-width="1.0"/>
<line x1="888.8" y1="269.02" x2="891.0" y2="268.92" stroke="#fff" stroke-width="1.0"/>
<line x1="833.9" y1="264.85" x2="834.7" y2="264.85" stroke="#fff" stroke-width="0.7" stroke-opacity="0.6"/>
<line x1="841.1" y1="264.59" x2="841.9" y2="264.59" stroke="#fff" stroke-width="0.7" stroke-opacity="0.6"/>
<line x1="848.2" y1="264.33" x2="849.0" y2="264.33" stroke="#fff" stroke-width="0.7" stroke-opacity="0.6"/>
<line x1="854.5" y1="264.09" x2="855.3" y2="264.09" stroke="#fff" stroke-width="0.7" stroke-opacity="0.6"/>
<line x1="861.6" y1="263.83" x2="862.4" y2="263.83" stroke="#fff" stroke-width="0.7" stroke-opacity="0.6"/>
<line x1="867.3" y1="263.62" x2="868.1" y2="263.62" stroke="#fff" stroke-width="0.7" stroke-opacity="0.6"/>
<line x1="874.8" y1="263.34" x2="875.6" y2="263.34" stroke="#fff" stroke-width="0.7" stroke-opacity="0.6"/>
<line x1="880.8" y1="263.12" x2="881.6" y2="263.12" stroke="#fff" stroke-width="0.7" stroke-opacity="0.6"/>
<line x1="888.5" y1="262.84" x2="889.3" y2="262.84" stroke="#fff" stroke-width="0.7" stroke-opacity="0.6"/>
<path d="M831.0,259.80 l1.4,-1.1 l1.4,1.1 M834.2,259.68 l1.4,-1.1 l1.4,1.1 M837.4,259.56 l1.4,-1.1 l1.4,1.1 M840.6,259.45 l1.4,-1.1 l1.4,1.1 M843.8,259.33 l1.4,-1.1 l1.4,1.1 M847.0,259.21 l1.4,-1.1 l1.4,1.1 M850.2,259.09 l1.4,-1.1 l1.4,1.1 M853.4,258.97 l1.4,-1.1 l1.4,1.1 M856.6,258.86 l1.4,-1.1 l1.4,1.1 M859.8,258.74 l1.4,-1.1 l1.4,1.1 M863.0,258.62 l1.4,-1.1 l1.4,1.1 M866.2,258.50 l1.4,-1.1 l1.4,1.1 M869.4,258.38 l1.4,-1.1 l1.4,1.1 M872.6,258.27 l1.4,-1.1 l1.4,1.1 M875.8,258.15 l1.4,-1.1 l1.4,1.1 M879.0,258.03 l1.4,-1.1 l1.4,1.1 M882.2,257.91 l1.4,-1.1 l1.4,1.1 M885.4,257.79 l1.4,-1.1 l1.4,1.1 M888.6,257.68 l1.4,-1.1 l1.4,1.1 M891.8,257.56 l1.4,-1.1 l1.4,1.1 " fill="#000" stroke="#000" stroke-width="0.7"/>
<path d="M831.0,279.60 l1.4,1.0 l1.4,-1.0 M834.2,279.48 l1.4,1.0 l1.4,-1.0 M837.4,279.36 l1.4,1.0 l1.4,-1.0 M840.6,279.25 l1.4,1.0 l1.4,-1.0 M843.8,279.13 l1.4,1.0 l1.4,-1.0 M847.0,279.01 l1.4,1.0 l1.4,-1.0 M850.2,278.89 l1.4,1.0 l1.4,-1.0 M853.4,278.77 l1.4,1.0 l1.4,-1.0 M856.6,278.66 l1.4,1.0 l1.4,-1.0 M859.8,278.54 l1.4,1.0 l1.4,-1.0 M863.0,278.42 l1.4,1.0 l1.4,-1.0 M866.2,278.30 l1.4,1.0 l1.4,-1.0 M869.4,278.18 l1.4,1.0 l1.4,-1.0 M872.6,278.07 l1.4,1.0 l1.4,-1.0 M875.8,277.95 l1.4,1.0 l1.4,-1.0 M879.0,277.83 l1.4,1.0 l1.4,-1.0 M882.2,277.71 l1.4,1.0 l1.4,-1.0 M885.4,277.59 l1.4,1.0 l1.4,-1.0 M888.6,277.48 l1.4,1.0 l1.4,-1.0 M891.8,277.36 l1.4,1.0 l1.4,-1.0 " fill="#000" stroke="#000" stroke-width="0.7"/>
<path d="M815.4,258.7 L817.3,257.3 L826.2,256.8 L829.9,260.1 L832.2,279.3 L832.7,304.5 L819.2,305 L814,298.9 Z" fill="#fff" stroke="#000" stroke-width="1.4" stroke-linejoin="round" />
<path d="M821,258 Q821.5,262 821,270.4 L820,304.5 M821,270.4 L830.5,269.9" fill="none" stroke="#000" stroke-width="1.1" stroke-linejoin="round" />
<path d="M891.1,254 L893,253 L902.8,253.1 L906.1,256.4 L906.5,300.7 L896.3,301.7 L888.8,295.1 L890.2,276.4 L890.5,256 Z" fill="#fff" stroke="#000" stroke-width="1.4" stroke-linejoin="round" />
<path d="M896.3,254 L896.3,301.7 M895.3,266.2 L905.5,265.7" fill="none" stroke="#000" stroke-width="1.1" stroke-linejoin="round" />
<rect x="907" y="280.2" width="5" height="4.7" rx="0" fill="#000" stroke="#000" stroke-width="0.8"/>
<rect x="907" y="288.6" width="5" height="4.7" rx="0" fill="#000" stroke="#000" stroke-width="0.8"/>
<line x1="912" y1="282.5" x2="914" y2="282.5" stroke="#000" stroke-width="2.5"/>
<line x1="912" y1="291" x2="914" y2="291" stroke="#000" stroke-width="2.5"/>
<line x1="855.9" y1="222" x2="855.9" y2="362" stroke="#000" stroke-width="1.6"/>
<rect x="761.1" y="289.1" width="5.9" height="2.8" rx="0.7" fill="#000" stroke="#000" stroke-width="0.4"/>
<rect x="762.1" y="291.9" width="3.6" height="12.9" rx="0" fill="#000" stroke="#000" stroke-width="0.4"/>
<line x1="763.9" y1="293" x2="763.9" y2="303.5" stroke="#fff" stroke-width="0.9"/>
<line x1="763.9" y1="304.8" x2="763.9" y2="313.1" stroke="#000" stroke-width="1.8"/>
<rect x="761.1" y="313.1" width="6.9" height="2.3" rx="0.8" fill="#000" stroke="#000" stroke-width="0.4"/>
<path d="M763.9,315 L763.9,338.6 L858.75,338.6 L858.75,350" fill="none" stroke="#000" stroke-width="1.8" stroke-linejoin="round" />
<line x1="821.7" y1="305.4" x2="821.7" y2="350.3" stroke="#000" stroke-width="1.4"/>
<line x1="899.1" y1="301.7" x2="899.1" y2="344.2" stroke="#000" stroke-width="1.4"/>
<line x1="827.1" y1="307.3" x2="827.1" y2="311" stroke="#000" stroke-width="1.3"/>
<rect x="823.7" y="311" width="6.8" height="3.8000000000000114" rx="0" fill="#000" stroke="#000" stroke-width="0.5"/>
<rect x="825.1" y="314.8" width="4.0" height="8.399999999999977" rx="0" fill="#000" stroke="#000" stroke-width="0.6"/>
<line x1="827.1" y1="323.2" x2="827.1" y2="356" stroke="#000" stroke-width="1.3"/>
<line x1="839.1" y1="324.1" x2="839.1" y2="325" stroke="#000" stroke-width="1.3"/>
<rect x="835.7" y="325" width="6.8" height="2.5" rx="0" fill="#000" stroke="#000" stroke-width="0.5"/>
<rect x="837.1" y="327.5" width="4.0" height="9.199999999999989" rx="0" fill="#000" stroke="#000" stroke-width="0.6"/>
<line x1="839.1" y1="336.7" x2="839.1" y2="372" stroke="#000" stroke-width="1.3"/>
<line x1="882" y1="305" x2="882" y2="308" stroke="#000" stroke-width="1.3"/>
<rect x="878.6" y="308" width="6.8" height="4" rx="0" fill="#000" stroke="#000" stroke-width="0.5"/>
<rect x="880.0" y="312" width="4.0" height="8.800000000000011" rx="0" fill="#000" stroke="#000" stroke-width="0.6"/>
<line x1="882" y1="320.8" x2="882" y2="370" stroke="#000" stroke-width="1.3"/>
<line x1="893.9" y1="319" x2="893.9" y2="322" stroke="#000" stroke-width="1.3"/>
<rect x="890.5" y="322" width="6.8" height="3" rx="0" fill="#000" stroke="#000" stroke-width="0.5"/>
<rect x="891.9" y="325" width="4.0" height="8.5" rx="0" fill="#000" stroke="#000" stroke-width="0.6"/>
<line x1="893.9" y1="333.5" x2="893.9" y2="356" stroke="#000" stroke-width="1.3"/>
<path d="M813.6,354.7 L811.7,425.4 C813,435 840,438.6 862,438.6 C884,438.6 908,435 909.1,426.3 L907.4,354.7 Z" fill="#fff" stroke="#000" stroke-width="1.6" stroke-linejoin="round" />
<path d="M820,419.4 L824.7,422 Q835,424.5 845.3,425 L865,424.6 Q880,424 890.7,422.8 L907.8,417.7" fill="none" stroke="#000" stroke-width="1.6" stroke-linejoin="round" />
<ellipse cx="860.5" cy="355" rx="31" ry="8.5" fill="#fff" stroke="#000" stroke-width="1.4" />
<path d="M830.7,360.7 L849.6,366.3 L884.7,365 L894.5,358.1" fill="none" stroke="#000" stroke-width="1.5" stroke-linejoin="round" />
<path d="M832,362.5 L849.6,368 L884.7,366.7 L893.5,360.5" fill="none" stroke="#000" stroke-width="1.0" stroke-linejoin="round" />
<path d="M820.4,360 L820.4,418 M833.3,361.5 L833.3,403.1 M849.2,367 L849.2,407.4 M851,367.5 L851,407.4 M884.7,366 L884.7,406.1 M894.5,359 L894.5,400.1 M906.5,357 L906.5,417" fill="none" stroke="#000" stroke-width="1.3" stroke-linejoin="round" />
<path d="M833.3,403.1 L845.3,407.4 L884.7,406.1 L894.5,400.1" fill="none" stroke="#000" stroke-width="1.6" stroke-linejoin="round" />
<path d="M845.3,407.4 L846.1,425.2 M889.4,404.9 L891.4,423.2" fill="none" stroke="#000" stroke-width="1.3" stroke-linejoin="round" />
<path d="M820,416 L833.3,403.6 M822.5,418 L835.5,405 M825.6,420.3 L839.3,406.1 M827.5,421.5 L841,407.5" fill="none" stroke="#000" stroke-width="1.1" stroke-linejoin="round" />
<path d="M894.5,400.5 L907.8,414.3 M893,402.5 L906.5,416 M890,404.5 L904,419 M888.5,406.5 L901.5,420" fill="none" stroke="#000" stroke-width="1.1" stroke-linejoin="round" />
<path d="M813.6,353.4 Q815,350.5 822,350.9 Q829,351 829.9,354 L829.9,359.9 Q820,360.5 813.6,356.5 Z" fill="#000" stroke="#000" stroke-width="1.2" stroke-linejoin="round" />
<path d="M907.8,355 Q907,348 899,347 Q892,347.5 891.5,351 L891.5,356.4 Q900,357.2 907.8,356.4 Z" fill="#000" stroke="#000" stroke-width="1.2" stroke-linejoin="round" />
<ellipse cx="856.4" cy="359.8" rx="5.1" ry="1.4" fill="#000" stroke="#000" stroke-width="1.2" />
<ellipse cx="874.4" cy="358.9" rx="5.1" ry="1.4" fill="#000" stroke="#000" stroke-width="1.2" />
<line x1="838.8" y1="355" x2="838.8" y2="421" stroke="#000" stroke-width="1.5"/>
<line x1="856" y1="355" x2="856" y2="359.8" stroke="#000" stroke-width="1.6"/>
<line x1="821.8" y1="435.3" x2="821.8" y2="441.8" stroke="#000" stroke-width="1.3"/>
<rect x="819.6999999999999" y="441.8" width="4.2" height="9.599999999999966" rx="0" fill="#000" stroke="#000" stroke-width="0.5"/>
<path d="M817.8,452.4 Q821.8,449.4 825.8,452.4 Q821.8,455.4 817.8,452.4 Z" fill="#000" stroke="#000" stroke-width="0.8" stroke-linejoin="round" />
<line x1="898.7" y1="434.2" x2="898.7" y2="438.5" stroke="#000" stroke-width="1.3"/>
<rect x="896.6" y="438.5" width="4.2" height="9.600000000000023" rx="0" fill="#000" stroke="#000" stroke-width="0.5"/>
<path d="M894.7,449.1 Q898.7,446.1 902.7,449.1 Q898.7,452.1 894.7,449.1 Z" fill="#000" stroke="#000" stroke-width="0.8" stroke-linejoin="round" />
<line x1="854.9" y1="448.9" x2="854.9" y2="505" stroke="#000" stroke-width="1.4"/>
<rect x="849.65" y="505" width="10.5" height="2.8000000000000114" rx="0" fill="#000" stroke="#000" stroke-width="0.6"/>
<rect x="850.25" y="507.8" width="9.3" height="33.80000000000001" rx="0" fill="#fff" stroke="#000" stroke-width="1.3"/>
<path d="M847.55,541.6 L862.25,541.6 L862.25,548.8 Q854.9,551.0999999999999 847.55,548.8 Z" fill="#fff" stroke="#000" stroke-width="1.3" stroke-linejoin="round" />
<line x1="886.1" y1="452.2" x2="886.1" y2="506.2" stroke="#000" stroke-width="1.4"/>
<rect x="881.15" y="506.2" width="9.899999999999999" height="3.1999999999999886" rx="0" fill="#000" stroke="#000" stroke-width="0.6"/>
<rect x="881.75" y="509.4" width="8.7" height="34.89999999999998" rx="0" fill="#fff" stroke="#000" stroke-width="1.3"/>
<path d="M878.75,544.3 L893.45,544.3 L893.45,550.5 Q886.1,552.8 878.75,550.5 Z" fill="#fff" stroke="#000" stroke-width="1.3" stroke-linejoin="round" />
<line x1="856.9" y1="572.1" x2="856.9" y2="599.7" stroke="#000" stroke-width="1.5"/>
<ellipse cx="856.9" cy="587.1" rx="7" ry="1.8999999999999773" fill="#000" stroke="#000" stroke-width="0.6" />
<path d="M853.4,589 L853.9,595.5 M860.4,589 L859.9,595.5 M855.4,589 L855.4,596" fill="none" stroke="#000" stroke-width="1.0" stroke-linejoin="round" />
<line x1="886.2" y1="570.1" x2="886.2" y2="595.5" stroke="#000" stroke-width="1.5"/>
<ellipse cx="886.2" cy="583.5" rx="6.5" ry="2.2000000000000455" fill="#000" stroke="#000" stroke-width="0.6" />
<path d="M882.7,585.7 L883.2,592.2 M889.7,585.7 L889.2,592.2 M884.7,585.7 L884.7,592.7" fill="none" stroke="#000" stroke-width="1.0" stroke-linejoin="round" />
<path d="M840,475 L840,536.1 L807.5,558" fill="none" stroke="#000" stroke-width="1.4" stroke-linejoin="round" />
<path d="M769,539 Q770,546 774,550 Q780,556 797,566.5" fill="none" stroke="#000" stroke-width="1.2" stroke-linejoin="round" />
<path d="M771.5,538.5 Q772.5,545 776,548.5 Q782,554 798.5,563.5" fill="none" stroke="#000" stroke-width="1.2" stroke-linejoin="round" />
<line x1="768.5" y1="538.5" x2="771.5" y2="541.5" stroke="#000" stroke-width="2"/>
<path d="M801.5,558.4 L808.9,560.5 L802.1,584.7 L795.2,582.6 Z" fill="#fff" stroke="#000" stroke-width="1.3" stroke-linejoin="round" />
<path d="M796,578.5 L803,580.5" fill="none" stroke="#000" stroke-width="1.0" stroke-linejoin="round" />
<path d="M803.5,573 L812,569 L814.7,571.5 L805,582.6 L802.5,582 Z" fill="#000" stroke="#000" stroke-width="1.0" stroke-linejoin="round" />
<path d="M806,572 L811.5,569.8 M805,576 L812,572" stroke="#fff" stroke-width="0.6" fill="none"/>
<line x1="803" y1="585" x2="803" y2="658" stroke="#000" stroke-width="1.4"/>
<rect x="793.75" y="599" width="3.6" height="6" rx="0" fill="#fff" stroke="#000" stroke-width="1.0"/>
<rect x="800" y="600.5" width="3.6" height="5.5" rx="0" fill="#fff" stroke="#000" stroke-width="1.0"/>
<rect x="806" y="602" width="4" height="5" rx="0" fill="#fff" stroke="#000" stroke-width="1.2"/>
<rect x="811" y="603" width="4" height="5.5" rx="0" fill="#fff" stroke="#000" stroke-width="1.2"/>
<line x1="805" y1="606" x2="816" y2="607.5" stroke="#000" stroke-width="1.6"/>
<path d="M790,617 L796,616.25 L816.25,623 L816.25,633.75 L810,633.5 L790,626 Z" fill="#000" stroke="#000" stroke-width="1.2" stroke-linejoin="round" />
<rect x="797" y="621" width="4" height="7" rx="0" fill="#fff" stroke="#000" stroke-width="0.6"/>
<rect x="803.5" y="624" width="4" height="7" rx="0" fill="#fff" stroke="#000" stroke-width="0.6"/>
<rect x="809.5" y="626" width="4" height="6.5" rx="0" fill="#fff" stroke="#000" stroke-width="0.6"/>
<ellipse cx="803.5" cy="649" rx="10.5" ry="7" fill="none" stroke="#000" stroke-width="1.3" transform="rotate(12 803.5 649)"/>
<line x1="782.5" y1="643.75" x2="793" y2="641.5" stroke="#000" stroke-width="1.2"/>
<path d="M849.9,637.1 L886.4,639.4 L885.4,655.8 L849.9,653.5 Q846.5,645.5 849.9,637.1 Z" fill="#fff" stroke="#000" stroke-width="1.3" stroke-linejoin="round" />
<ellipse cx="885.9" cy="647.6" rx="2.8" ry="8.2" fill="#fff" stroke="#000" stroke-width="1.6" />
<path d="M883.5,642 L887.5,641.5 L888,653 L884,653.5 Q882.5,648 883.5,642 Z" fill="#000" stroke="#000" stroke-width="0.8" stroke-linejoin="round" />
<path d="M887.3,645 L923.3,648.5 M887.3,647.5 L922,650 M888,649.5 L920,651.5" fill="none" stroke="#000" stroke-width="1.6" stroke-linejoin="round" />
<line x1="905" y1="648.5" x2="923.3" y2="649.3" stroke="#000" stroke-width="2.4"/>
<path d="M854.5,692.1 L858.5,692.1 L858.5,694.2 L873.9,696.2 L894,695 L894,704.7 Q888,706 880.4,705.9 Q868,705.5 860.1,704.7 L854.5,702.2 Z" fill="#fff" stroke="#000" stroke-width="1.5" stroke-linejoin="round" />
<path d="M860,704.8 L863.5,705.5 M872,705.8 L882,706.3" fill="none" stroke="#000" stroke-width="1.6" stroke-linejoin="round" />
<path d="M858.3,689.8 L858.3,694.3 Q865,696.8 871.5,694.3 L871.5,689.8 Z" fill="#fff" stroke="#000" stroke-width="1.4" stroke-linejoin="round" />
<ellipse cx="864.9" cy="689.9" rx="6.6" ry="2.0" fill="#000" stroke="#000" stroke-width="1.2" />
<path d="M875.6,689.5 L875.6,694.8 Q882,697.4 888.5,694.8 L888.5,689.5 Z" fill="#fff" stroke="#000" stroke-width="1.4" stroke-linejoin="round" />
<ellipse cx="882.05" cy="689.6" rx="6.45" ry="2.3" fill="#000" stroke="#000" stroke-width="1.2" />
<path d="M861,689.9 L868.5,689.9 M878,689.4 L886,689.4" stroke="#fff" stroke-width="0.5" stroke-opacity="0.7"/>
<line x1="857.9" y1="703.4" x2="857.9" y2="717.8" stroke="#000" stroke-width="1.5"/>
<path d="M856.6,727.1 L858.6,727.1 L859.4,731.1 L859.6,731.1 L859.6,742.8 L855.6,742.8 L855.6,731.1 L855.8000000000001,731.1 Z" fill="#fff" stroke="#000" stroke-width="1.2" stroke-linejoin="round" />
<rect x="854.3000000000001" y="742.8" width="6.6" height="3" rx="0" fill="#000" stroke="#000" stroke-width="0.5"/>
<line x1="857.6" y1="731.6" x2="857.6" y2="742.3" stroke="#000" stroke-width="0.6"/>
<path d="M871.4,727.1 L873.4,727.1 L874.1999999999999,731.1 L874.4,731.1 L874.4,742.8 L870.4,742.8 L870.4,731.1 L870.6,731.1 Z" fill="#fff" stroke="#000" stroke-width="1.2" stroke-linejoin="round" />
<rect x="869.1" y="742.8" width="6.6" height="3" rx="0" fill="#000" stroke="#000" stroke-width="0.5"/>
<line x1="872.4" y1="731.6" x2="872.4" y2="742.3" stroke="#000" stroke-width="0.6"/>
<path d="M890.5,727.1 L892.5,727.1 L893.3,731.1 L893.5,731.1 L893.5,744.5 L889.5,744.5 L889.5,731.1 L889.7,731.1 Z" fill="#fff" stroke="#000" stroke-width="1.2" stroke-linejoin="round" />
<rect x="888.2" y="744.5" width="6.6" height="3" rx="0" fill="#000" stroke="#000" stroke-width="0.5"/>
<line x1="891.5" y1="731.6" x2="891.5" y2="744.0" stroke="#000" stroke-width="0.6"/>
<line x1="860" y1="745.4" x2="860" y2="780" stroke="#000" stroke-width="1.6"/>
<ellipse cx="860.5" cy="749.7" rx="3.3" ry="1.1" fill="#000" stroke="#000" stroke-width="1.6" />
<ellipse cx="860.5" cy="756.3" rx="3.3" ry="1.1" fill="#000" stroke="#000" stroke-width="1.6" />
<ellipse cx="860.5" cy="763.3" rx="3.3" ry="1.1" fill="#000" stroke="#000" stroke-width="1.6" />
<ellipse cx="860.5" cy="769.2" rx="3.3" ry="1.1" fill="#000" stroke="#000" stroke-width="1.6" />
<path d="M817.5,752 L860,762.5 M817.3,754.3 L859.5,764.8" fill="none" stroke="#000" stroke-width="1.0" stroke-linejoin="round" />
<line x1="817" y1="752" x2="817.8" y2="754.5" stroke="#000" stroke-width="1"/>
<rect x="858.5" y="776" width="3.5" height="5" rx="0" fill="#fff" stroke="#000" stroke-width="1.0"/>
<rect x="876.3" y="758.3" width="8.6" height="6.2" rx="0" fill="#000" stroke="#000" stroke-width="0.6"/>
<line x1="879.8" y1="764.5" x2="879.8" y2="775.8" stroke="#000" stroke-width="1.4"/>
<path d="M848,780 L848,800 Q850,807.5 878.4,807.5 Q906.7,807.5 908.75,800 L908.75,780" fill="#fff" stroke="#000" stroke-width="1.4" stroke-linejoin="round" />
<ellipse cx="878.4" cy="780" rx="30.4" ry="7.5" fill="#fff" stroke="#000" stroke-width="1.3" />
<path d="M846.25,799 Q847,808.75 878.4,808.75 Q910.5,808.75 911.25,799 M846.25,799 L846.25,801 Q847,811 878.4,811 Q910.5,811 911.25,801 L911.25,799" fill="none" stroke="#000" stroke-width="1.3" stroke-linejoin="round" />
<ellipse cx="878.2" cy="779.6" rx="9.6" ry="1.9" fill="none" stroke="#000" stroke-width="1.4" />
<path d="M869,780.5 Q878,783.2 887.5,780.5" fill="none" stroke="#000" stroke-width="1.6" stroke-linejoin="round" />
<line x1="879.8" y1="772" x2="879.8" y2="776" stroke="#000" stroke-width="1.4"/>
<path d="M877.5,775.3 L882.5,775.3 L880,776.3 Z" fill="#000" stroke="#000" stroke-width="0.8" stroke-linejoin="round" />
<rect x="857.6" y="776.3" width="4.8" height="4.3" rx="0" fill="#fff" stroke="#000" stroke-width="1.3"/>
<line x1="860" y1="772.5" x2="860" y2="778" stroke="#000" stroke-width="1.6"/>
<line x1="878" y1="803.75" x2="878" y2="822.5" stroke="#000" stroke-width="1.7"/>
<line x1="878" y1="833.75" x2="878" y2="847.5" stroke="#000" stroke-width="1.7"/>
<line x1="878" y1="861.25" x2="878" y2="875" stroke="#000" stroke-width="1.7"/>
<line x1="878" y1="953" x2="878" y2="963.3" stroke="#000" stroke-width="1.7"/>
<line x1="878" y1="971" x2="878" y2="977" stroke="#000" stroke-width="1.7"/>
<line x1="878" y1="988.2" x2="878" y2="1094.25" stroke="#000" stroke-width="1.7"/>
<ellipse cx="878.6" cy="826.6" rx="10.6" ry="2.6" fill="#fff" stroke="#000" stroke-width="1.9" />
<ellipse cx="878.6" cy="826.6" rx="7" ry="1.2" fill="none" stroke="#000" stroke-width="0.8" />
<path d="M868.1,852 L868.1,858.3 Q870,860.6 878.4,860.6 Q886.8,860.6 888.8,858.3 L888.8,852" fill="#fff" stroke="#000" stroke-width="1.8" stroke-linejoin="round" />
<ellipse cx="878.45" cy="851.9" rx="10.3" ry="2.7" fill="#000" stroke="#000" stroke-width="1.0" />
<line x1="878" y1="848" x2="878" y2="862" stroke="#000" stroke-width="1.7"/>
<path d="M874.3,882 L874.3,894 L883,894 L883,882 Z" fill="#fff" stroke="#000" stroke-width="1.3" stroke-linejoin="round" />
<ellipse cx="878.65" cy="882" rx="4.35" ry="1.3" fill="#fff" stroke="#000" stroke-width="1.2" />
<line x1="874.3" y1="887.5" x2="883" y2="887.5" stroke="#000" stroke-width="0.8"/>
<path d="M863.1,896 L863.1,912.5 Q864,916.8 878.4,916.8 Q892.8,916.8 893.8,912.5 L893.8,896" fill="#fff" stroke="#000" stroke-width="1.4" stroke-linejoin="round" />
<ellipse cx="878.45" cy="896" rx="15.35" ry="3.3" fill="#fff" stroke="#000" stroke-width="1.3" />
<path d="M863.1,899 Q865,902 878.4,902 Q892,902 893.8,899" fill="none" stroke="#000" stroke-width="1.0" stroke-linejoin="round" />
<path d="M863.1,910 Q865,913.5 878.4,913.5 Q892,913.5 893.8,910" fill="none" stroke="#000" stroke-width="0.9" stroke-linejoin="round" />
<path d="M873.8,917 L873.8,944.3 L876,944.3 L876,952 L880.4,952 L880.4,944.3 L883,944.3 L883,917" fill="#fff" stroke="#000" stroke-width="1.3" stroke-linejoin="round" />
<path d="M873.8,920 L883,920 M874.5,922.5 L882.5,922.5" fill="none" stroke="#000" stroke-width="0.8" stroke-linejoin="round" />
<line x1="878" y1="953" x2="878" y2="963.3" stroke="#000" stroke-width="1.7"/>
<path d="M868.3,979.7 L868.3,985.6 Q870,987.8 878.4,987.8 Q886.8,987.8 888.5,985.6 L888.5,979.7" fill="#fff" stroke="#000" stroke-width="1.8" stroke-linejoin="round" />
<ellipse cx="878.4" cy="979.6" rx="10.1" ry="2.6" fill="#000" stroke="#000" stroke-width="1.0" />
<line x1="878" y1="976" x2="878" y2="989" stroke="#000" stroke-width="1.7"/>
<path d="M850.8,1026 L851,1016 Q852,1009.7 879.5,1009.7 Q907,1009.7 908,1016 L908.2,1026" fill="#fff" stroke="#000" stroke-width="1.3" stroke-linejoin="round" />
<path d="M850.5,1048.5 L850.8,1055.5 Q853,1062.2 879.5,1062.2 Q906,1062.2 908.5,1055.5 L908.8,1048.5" fill="#fff" stroke="#000" stroke-width="1.3" stroke-linejoin="round" />
<path d="M850.2,1024.5 L850.2,1047 Q852,1049.5 879.5,1050.5 Q907,1049.5 908.8,1047 L908.8,1024.5 Q907,1028 879.5,1028.5 Q852,1028 850.2,1024.5 Z" fill="#fff" stroke="#000" stroke-width="1.8" stroke-linejoin="round" />
<path d="M860.6,1017.5 Q879,1022.5 896.7,1017.5" fill="none" stroke="#000" stroke-width="1.1" stroke-linejoin="round" />
<line x1="855.6" y1="1027.5" x2="855.6" y2="1048.5" stroke="#000" stroke-width="2.8"/>
<line x1="895.1" y1="1028" x2="895.1" y2="1048.5" stroke="#000" stroke-width="2.8"/>
<line x1="878" y1="1009.5" x2="878" y2="1062.2" stroke="#000" stroke-width="1.7"/>
<g fill="none" stroke="#000" stroke-width="1.3" stroke-linecap="round">
<line x1="483.75" y1="173.75" x2="384.25" y2="206.75"/>
<line x1="484.25" y1="201.75" x2="382.5" y2="231.25"/>
<line x1="486.25" y1="250" x2="400" y2="293.75"/>
<line x1="483.75" y1="287" x2="405" y2="330"/>
<line x1="482.5" y1="338.75" x2="388" y2="397.5"/>
<line x1="486.25" y1="414.5" x2="382" y2="448.75"/>
<line x1="486.25" y1="414.5" x2="382" y2="474.5"/>
<line x1="312" y1="453" x2="367.5" y2="500"/>
<line x1="312.5" y1="490" x2="367.5" y2="536.25"/>
<line x1="482.5" y1="493.75" x2="403.25" y2="549.5"/>
<line x1="483.25" y1="561.25" x2="419.25" y2="598.75"/>
<line x1="482.5" y1="588" x2="380" y2="634.5"/>
<line x1="483.25" y1="616.25" x2="390.5" y2="661.25"/>
<line x1="483.25" y1="650.5" x2="380.75" y2="702.5"/>
<line x1="484.25" y1="672.5" x2="377.5" y2="725"/>
<line x1="484.5" y1="738.25" x2="408.25" y2="780.5"/>
<line x1="485" y1="804.5" x2="430" y2="837.5"/>
<line x1="483.25" y1="828.75" x2="430.75" y2="860"/>
<line x1="484.25" y1="902.5" x2="417" y2="928.75"/>
<line x1="484.25" y1="972.5" x2="422.5" y2="997.5"/>
<line x1="484.25" y1="1041.25" x2="441.75" y2="1060"/>
<line x1="483.25" y1="1168.75" x2="446.25" y2="1181.25"/>
<line x1="483.25" y1="1216.25" x2="430" y2="1233.75"/>
<line x1="622.3" y1="960.4" x2="602.8" y2="972.8"/>
<line x1="622" y1="993.1" x2="594.2" y2="1015.7"/>
<line x1="624.1" y1="1039.8" x2="589.6" y2="1063.6"/>
<line x1="537.4" y1="1078.8" x2="558.9" y2="1106.8"/>
<line x1="881.25" y1="90.5" x2="855" y2="127.5"/>
<line x1="1031.25" y1="116.25" x2="970" y2="158.75"/>
<line x1="963.75" y1="315" x2="906.25" y2="296.25"/>
<line x1="723.75" y1="321.25" x2="761.25" y2="301.25"/>
<line x1="723.75" y1="342.5" x2="761.25" y2="315"/>
<line x1="962" y1="356.25" x2="900" y2="333.75"/>
<line x1="963.25" y1="412.5" x2="901.25" y2="396.25"/>
<line x1="963.25" y1="455.5" x2="902.5" y2="445"/>
<line x1="963.25" y1="495.75" x2="887.5" y2="527.5"/>
<line x1="971.75" y1="542" x2="890" y2="583.75"/>
<line x1="967.5" y1="588.75" x2="866.25" y2="644.5"/>
<line x1="967" y1="656.25" x2="895" y2="696.25"/>
<line x1="967" y1="693" x2="893.75" y2="735"/>
<line x1="966.25" y1="728.75" x2="883.75" y2="760"/>
<line x1="963.75" y1="751.25" x2="907.5" y2="783.75"/>
<line x1="967.5" y1="781.25" x2="887.5" y2="826.25"/>
<line x1="967" y1="812" x2="888.75" y2="854.5"/>
<line x1="965.75" y1="864.5" x2="893.8" y2="905.1"/>
<line x1="967.3" y1="934.9" x2="888.1" y2="979.6"/>
<line x1="966.4" y1="1005.4" x2="908.8" y2="1035.6"/>
<line x1="745.5" y1="537" x2="769.5" y2="547"/>
<line x1="748.25" y1="565" x2="795" y2="598.75"/>
<line x1="747.5" y1="585" x2="795" y2="605"/>
<line x1="749.25" y1="607.5" x2="791.25" y2="620"/>
<line x1="748" y1="627.5" x2="785" y2="642.5"/>
<line x1="778.75" y1="708.75" x2="858.75" y2="749.5"/>
<line x1="780" y1="733.75" x2="858.75" y2="756.25"/>
<line x1="783.75" y1="752" x2="857.5" y2="762.5"/>
<line x1="784.5" y1="772.5" x2="857.5" y2="764.25"/>
<line x1="783" y1="796.25" x2="858" y2="768.75"/>
<line x1="783" y1="823.25" x2="846.25" y2="801.25"/>
</g>
<g>
<text transform="translate(485.57,177.50) scale(0.585,1)" x="0.00 15.11 30.21 45.32" y="0">0190</text>
<text transform="translate(485.57,201.75) scale(0.585,1)" x="0.00 16.25 32.49 48.74" y="0">0200</text>
<text transform="translate(487.32,250.50) scale(0.585,1)" x="0.00 14.82 29.64 44.47" y="0">0210</text>
<text transform="translate(485.57,288.75) scale(0.585,1)" x="0.00 16.25 32.49 48.74" y="0">0220</text>
<text transform="translate(485.57,342.50) scale(0.585,1)" x="0.00 16.25 32.49 48.74" y="0">0230</text>
<text transform="translate(485.57,415.50) scale(0.585,1)" x="0.00 16.25 32.49 48.74" y="0">0200</text>
<text transform="translate(274.32,455.50) scale(0.585,1)" x="0.00 17.24 34.49 51.73" y="0">0240</text>
<text transform="translate(274.32,492.50) scale(0.585,1)" x="0.00 16.96 33.92 50.88" y="0">0250</text>
<text transform="translate(485.57,497.00) scale(0.585,1)" x="0.00 16.25 32.49 48.74" y="0">0260</text>
<text transform="translate(485.57,565.00) scale(0.585,1)" x="0.00 16.25 32.49 48.74" y="0">0270</text>
<text transform="translate(484.07,590.00) scale(0.585,1)" x="0.00 16.25 32.49 48.74" y="0">0280</text>
<text transform="translate(485.57,618.75) scale(0.585,1)" x="0.00 16.25 32.49 48.74" y="0">0290</text>
<text transform="translate(484.82,654.50) scale(0.585,1)" x="0.00 16.25 32.49 48.74" y="0">0300</text>
<text transform="translate(487.32,677.50) scale(0.585,1)" x="0.00 14.82 29.64 44.47" y="0">0310</text>
<text transform="translate(485.57,739.50) scale(0.585,1)" x="0.00 16.25 32.49 48.74" y="0">0320</text>
<text transform="translate(485.57,807.50) scale(0.585,1)" x="0.00 16.25 32.49 48.74" y="0">0330</text>
<text transform="translate(484.07,833.75) scale(0.585,1)" x="0.00 17.10 34.20 51.30" y="0">0340</text>
<text transform="translate(485.57,905.00) scale(0.585,1)" x="0.00 16.25 32.49 48.74" y="0">0350</text>
<text transform="translate(485.57,977.00) scale(0.585,1)" x="0.00 16.25 32.49 48.74" y="0">0360</text>
<text transform="translate(485.57,1045.00) scale(0.585,1)" x="0.00 16.25 32.49 48.74" y="0">0370</text>
<text transform="translate(484.07,1172.00) scale(0.585,1)" x="0.00 16.25 32.49 48.74" y="0">0380</text>
<text transform="translate(484.82,1220.50) scale(0.585,1)" x="0.00 16.25 32.49 48.74" y="0">0390</text>
<text transform="translate(621.02,959.30) scale(0.585,1)" x="0.00 17.04 34.09 51.13" y="0">0420</text>
<text transform="translate(619.82,993.50) scale(0.585,1)" x="0.00 17.10 34.20 51.30" y="0">0400</text>
<text transform="translate(622.82,1038.00) scale(0.585,1)" x="0.00 15.85 31.70 47.54" y="0">0410</text>
<text transform="translate(553.52,1124.70) scale(0.585,1)" x="0.00 16.99 33.97 50.96" y="0">0400</text>
<text transform="translate(876.82,87.50) scale(0.585,1)" x="0.00 14.82 29.64 44.47" y="0">0010</text>
<text transform="translate(1022.82,114.50) scale(0.585,1)" x="0.00 16.67 33.35 50.02" y="0">0020</text>
<text transform="translate(964.82,323.75) scale(0.585,1)" x="0.00 16.53 33.06 49.59" y="0">0030</text>
<text transform="translate(684.82,331.25) scale(0.585,1)" x="0.00 17.67 35.34 53.01" y="0">0040</text>
<text transform="translate(684.82,353.75) scale(0.585,1)" x="0.00 16.96 33.92 50.88" y="0">0050</text>
<text transform="translate(965.32,363.75) scale(0.585,1)" x="0.00 16.39 32.78 49.17" y="0">0060</text>
<text transform="translate(964.82,420.00) scale(0.585,1)" x="0.00 16.67 33.35 50.02" y="0">0070</text>
<text transform="translate(964.82,463.75) scale(0.585,1)" x="0.00 16.67 33.35 50.02" y="0">0080</text>
<text transform="translate(964.82,498.75) scale(0.585,1)" x="0.00 16.67 33.35 50.02" y="0">0090</text>
<text transform="translate(965.57,538.75) scale(0.585,1)" x="0.00 15.11 30.21 45.32" y="0">0100</text>
<text transform="translate(968.07,588.75) scale(0.585,1)" x="0.00 13.68 27.36 41.05" y="0">0110</text>
<text transform="translate(967.32,656.25) scale(0.585,1)" x="0.00 15.25 30.50 45.75" y="0">0120</text>
<text transform="translate(967.32,694.50) scale(0.585,1)" x="0.00 14.82 29.64 44.47" y="0">0130</text>
<text transform="translate(967.32,728.75) scale(0.585,1)" x="0.00 14.82 29.64 44.47" y="0">0141</text>
<text transform="translate(966.82,755.00) scale(0.585,1)" x="0.00 15.53 31.07 46.60" y="0">0140</text>
<text transform="translate(967.32,782.50) scale(0.585,1)" x="0.00 15.25 30.50 45.75" y="0">0150</text>
<text transform="translate(966.07,811.25) scale(0.585,1)" x="0.00 15.53 31.07 46.60" y="0">0160</text>
<text transform="translate(964.82,864.50) scale(0.585,1)" x="0.00 15.53 31.07 46.60" y="0">0170</text>
<text transform="translate(967.12,936.60) scale(0.585,1)" x="0.00 14.82 29.64 44.47" y="0">0160</text>
<text transform="translate(967.12,1005.40) scale(0.585,1)" x="0.00 14.82 29.64 44.47" y="0">0180</text>
<text transform="translate(708.57,542.50) scale(0.585,1)" x="0.00 16.96 33.92 50.88" y="0">0430</text>
<text transform="translate(708.57,567.50) scale(0.585,1)" x="0.00 17.67 35.34 53.01" y="0">0440</text>
<text transform="translate(708.57,588.75) scale(0.585,1)" x="0.00 16.96 33.92 50.88" y="0">0450</text>
<text transform="translate(708.57,611.25) scale(0.585,1)" x="0.00 16.96 33.92 50.88" y="0">0460</text>
<text transform="translate(708.57,633.75) scale(0.585,1)" x="0.00 16.96 33.92 50.88" y="0">0470</text>
<text transform="translate(745.32,710.00) scale(0.585,1)" x="0.00 15.68 31.35 47.03" y="0">0142</text>
<text transform="translate(745.32,736.25) scale(0.585,1)" x="0.00 16.25 32.49 48.74" y="0">0143</text>
<text transform="translate(745.32,759.25) scale(0.585,1)" x="0.00 16.67 33.35 50.02" y="0">0144</text>
<text transform="translate(746.07,780.00) scale(0.585,1)" x="0.00 16.25 32.49 48.74" y="0">0145</text>
<text transform="translate(746.07,803.75) scale(0.585,1)" x="0.00 15.82 31.64 47.46" y="0">0146</text>
<text transform="translate(746.07,831.25) scale(0.585,1)" x="0.00 15.82 31.64 47.46" y="0">0147</text>
</g>
</svg>
</body></html>
